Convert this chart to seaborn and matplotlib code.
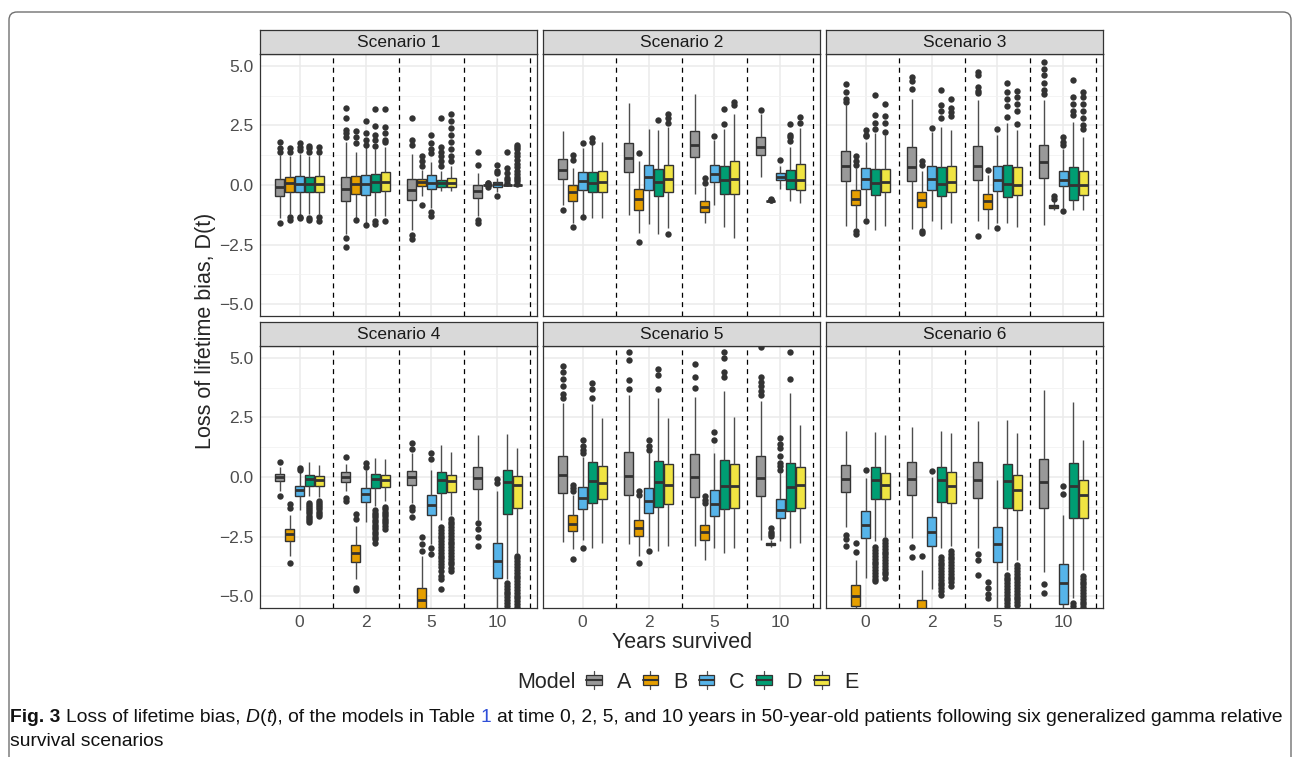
import matplotlib
matplotlib.use("Agg")
import matplotlib.pyplot as plt
import numpy as np
import pandas as pd
import seaborn as sns
from matplotlib.legend_handler import HandlerBase
from matplotlib.lines import Line2D
from matplotlib.patches import Patch, Rectangle, FancyBboxPatch

# 模型、时间点与配色
models = ["A", "B", "C", "D", "E"]
years = ["0", "2", "5", "10"]
palette = {"A": "#999999", "B": "#E69F00", "C": "#56B4E9", "D": "#009E73", "E": "#F0E442"}
scenarios = ["Scenario 1", "Scenario 2", "Scenario 3", "Scenario 4", "Scenario 5", "Scenario 6"]

# 每个箱体: (下须, Q1, 中位数, Q3, 上须), 依次为 0, 2, 5, 10 年
s1_box = {
    "A": [(-1.40, -0.47, -0.10, 0.26, 1.26), (-2.07, -0.68, -0.15, 0.32, 1.80), (-1.90, -0.64, -0.21, 0.26, 1.30), (-1.30, -0.54, -0.26, -0.01, 0.50)],
    "B": [(-1.20, -0.29, 0.08, 0.33, 1.20), (-1.37, -0.36, 0.04, 0.36, 1.40), (-0.45, -0.04, 0.12, 0.26, 0.64), (-0.01, -0.01, 0.00, 0.01, 0.01)],
    "C": [(-1.25, -0.29, 0.04, 0.36, 1.30), (-1.58, -0.40, 0.04, 0.43, 1.60), (-0.95, -0.15, 0.07, 0.43, 0.95), (-0.30, -0.10, 0.03, 0.12, 0.30)],
    "D": [(-1.20, -0.29, 0.05, 0.33, 1.20), (-1.30, -0.31, 0.12, 0.46, 1.50), (-0.26, -0.08, 0.10, 0.22, 0.60), (0.00, 0.00, 0.00, 0.00, 0.00)],
    "E": [(-1.20, -0.29, 0.06, 0.36, 1.25), (-1.30, -0.26, 0.12, 0.53, 1.60), (-0.26, -0.10, 0.08, 0.28, 0.80), (0.00, 0.00, 0.00, 0.00, 0.00)],
}
s1_out = {
    "A": [[1.38, 1.57, 1.80, -1.60], [2.0, 2.2, 2.33, 2.82, 3.25, -2.24, -2.6], [1.7, 1.9, 2.8, -2.1, -2.25], [0.85, 1.37, -1.45, -1.58]],
    "B": [[1.4, 1.57, -1.35, -1.45], [1.75, 2.0, 2.26, -1.49], [0.78, 1.0, 1.2, -0.85], [0.08, 0.1, -0.08]],
    "C": [[1.45, 1.6, 1.78, -1.35, -1.4], [1.7, 1.9, 2.17, 2.68, -1.7], [1.35, 1.5, 1.75, 2.1, -1.15, -1.3], [0.5, 0.6, 0.85, -0.47]],
    "D": [[1.4, 1.55, 1.65, -1.4, -1.48], [1.65, 1.9, 2.12, 2.47, 3.2, -1.5, -1.65], [0.8, 1.0, 1.2, 1.4, 1.6, 2.82], [0.1, 0.2, 0.3, 0.5, 0.7, 1.4]],
    "E": [[1.4, 1.6, -1.35, -1.5], [1.8, 1.9, 2.2, 2.44, 3.17, -1.5], [1.0, 1.2, 1.5, 1.8, 2.1, 2.4, 2.7, 3.0],
          [0.05, 0.15, 0.25, 0.35, 0.45, 0.6, 0.75, 0.9, 1.05, 1.2, 1.35, 1.5, 1.6, 1.7]],
}

s2_box = {
    "A": [(-0.82, 0.26, 0.64, 1.10, 2.26), (-1.28, 0.53, 1.12, 1.75, 3.46), (-0.37, 1.17, 1.68, 2.26, 3.83), (0.33, 1.26, 1.61, 2.00, 2.96)],
    "B": [(-1.58, -0.68, -0.31, -0.01, 0.70), (-2.00, -1.03, -0.58, -0.15, 1.00), (-1.58, -1.12, -0.92, -0.68, -0.10), (-0.68, -0.68, -0.68, -0.68, -0.68)],
    "C": [(-1.24, -0.19, 0.18, 0.53, 1.54), (-1.65, -0.22, 0.33, 0.85, 2.37), (-0.82, 0.11, 0.47, 0.85, 1.89), (-0.17, 0.19, 0.35, 0.50, 0.80)],
    "D": [(-1.37, -0.29, 0.10, 0.53, 1.75), (-2.07, -0.47, 0.12, 0.68, 2.30), (-1.75, -0.36, 0.19, 0.81, 2.37), (-0.68, -0.15, 0.19, 0.64, 1.60)],
    "E": [(-1.40, -0.29, 0.12, 0.57, 1.79), (-1.80, -0.29, 0.26, 0.85, 2.44), (-2.21, -0.37, 0.26, 1.01, 3.00), (-0.75, -0.22, 0.22, 0.89, 2.40)],
}
s2_out = {
    "A": [[-1.05], [], [], [3.15]],
    "B": [[1.05, 1.26, -1.76], [1.33, -2.4], [0.1, 0.29], [-0.58, -0.62, -0.65]],
    "C": [[1.75, -1.33], [], [2.07], [1.06]],
    "D": [[1.82, 1.98], [2.72], [2.58, 3.18], [1.85, 2.0, 2.1, 2.58]],
    "E": [[], [2.6, 2.8, 3.0, -2.05], [3.35, 3.49], [2.6, 2.86]],
}

s3_box = {
    "A": [(-1.72, 0.15, 0.78, 1.44, 3.35), (-1.86, 0.15, 0.74, 1.58, 3.60), (-1.51, 0.22, 0.81, 1.65, 3.56), (-1.69, 0.29, 0.96, 1.69, 3.56)],
    "B": [(-1.79, -0.86, -0.58, -0.22, 0.70), (-1.80, -0.93, -0.61, -0.29, 0.60), (-1.83, -0.99, -0.68, -0.36, 0.43), (-1.07, -0.96, -0.89, -0.82, -0.65)],
    "C": [(-1.40, -0.15, 0.26, 0.71, 1.82), (-1.51, -0.22, 0.26, 0.78, 2.24), (-1.60, -0.24, 0.22, 0.78, 2.12), (-0.95, -0.06, 0.22, 0.60, 1.50)],
    "D": [(-1.90, -0.40, 0.10, 0.68, 2.20), (-1.83, -0.47, 0.06, 0.74, 2.44), (-1.58, -0.51, 0.04, 0.82, 2.62), (-1.07, -0.65, -0.01, 0.74, 2.65)],
    "E": [(-1.72, -0.31, 0.12, 0.68, 2.10), (-1.58, -0.31, 0.12, 0.78, 2.30), (-1.75, -0.43, 0.01, 0.74, 2.30), (-1.03, -0.43, -0.01, 0.57, 2.00)],
}
s3_out = {
    "A": [[3.5, 3.6, 3.9, 4.25], [4.04, 4.35, 4.55], [3.85, 3.95, 4.1, 4.6, 4.76, -2.14], [3.83, 4.0, 4.3, 4.6, 4.87, 5.15]],
    "B": [[0.85, 1.0, 1.2, -1.93, -2.04], [0.85, 1.01, -1.92, -2.0], [0.64], [-0.47, -0.57]],
    "C": [[2.05, 2.1, 2.3, -1.51], [2.4], [2.37, -1.8], [1.68, 1.8, 2.03, -1.1]],
    "D": [[2.37, 2.6, 2.93, 3.76], [2.8, 3.1, 3.35, 3.97], [2.86, 3.3, 3.6, 3.9, 4.28], [2.93, 3.1, 3.4, 3.7, 4.39]],
    "E": [[2.24, 2.6, 2.9, 3.42], [2.9, 3.05, 3.25, 3.6], [2.55, 3.1, 3.4, 3.7, 3.93], [2.37, 2.5, 2.8, 3.1, 3.4, 3.7, 3.9]],
}

s4_box = {
    "A": [(-0.60, -0.18, -0.01, 0.14, 0.40), (-0.60, -0.22, 0.00, 0.19, 0.55), (-1.10, -0.32, 0.00, 0.26, 1.00), (-1.80, -0.50, -0.04, 0.42, 1.78)],
    "B": [(-3.30, -2.68, -2.40, -2.17, -1.60), (-4.28, -3.56, -3.17, -2.86, -2.06), (-7.00, -5.70, -5.18, -4.67, -3.30), (-9.50, -8.50, -8.00, -7.50, -6.60)],
    "C": [(-1.40, -0.78, -0.54, -0.36, 0.20), (-1.90, -1.04, -0.71, -0.46, 0.30), (-2.80, -1.61, -1.18, -0.74, 0.30), (-6.40, -4.25, -3.51, -2.75, -0.60)],
    "D": [(-0.80, -0.36, -0.08, 0.10, 0.61), (-1.20, -0.46, -0.08, 0.14, 0.79), (-1.80, -0.69, -0.11, 0.21, 1.35), (-4.30, -1.57, -0.22, 0.31, 1.80)],
    "E": [(-0.85, -0.36, -0.14, 0.06, 0.51), (-1.00, -0.42, -0.11, 0.10, 0.75), (-1.60, -0.64, -0.15, 0.07, 1.07), (-3.20, -1.29, -0.32, 0.03, 1.21)],
}
s4_out = {
    "A": [[0.65, -0.81], [0.85, -0.9, -1.0], [1.18, 1.42, -1.25, -1.4, -1.7], [-1.92, -2.2, -2.5, -2.9]],
    "B": [[-1.3, -1.15, -3.61], [-1.57, -1.78, -4.65, -4.76], [-2.54, -2.82, -3.1], []],
    "C": [[0.3, 0.37], [0.44, 0.58], [0.75, 1.0, -2.96, -3.24], [-0.07, -0.25]],
    "D": [[-1.08, -1.17, -1.26, -1.35, -1.44, -1.53, -1.62, -1.71, -1.8, -1.9],
          [-1.4, -1.5, -1.6, -1.7, -1.8, -1.9, -2.0, -2.1, -2.2, -2.3, -2.4, -2.5, -2.6, -2.75],
          [-2.1, -2.22, -2.34, -2.46, -2.58, -2.7, -2.82, -2.94, -3.06, -3.18, -3.3, -3.42, -3.54, -3.66, -3.78, -3.95, -4.15, -4.3, -4.7],
          [-4.45, -4.57, -4.69, -4.81, -4.93, -5.05, -5.17, -5.29, -5.41]],
    "E": [[-1.0, -1.09, -1.18, -1.27, -1.36, -1.45, -1.55, -1.64],
          [-1.25, -1.35, -1.45, -1.55, -1.65, -1.75, -1.85, -1.95, -2.05, -2.2],
          [-1.75, -1.87, -1.99, -2.11, -2.23, -2.35, -2.47, -2.59, -2.71, -2.83, -2.95, -3.07, -3.19, -3.31, -3.43, -3.55, -3.67, -3.8, -3.93],
          [-3.3, -3.42, -3.54, -3.66, -3.78, -3.9, -4.02, -4.14, -4.26, -4.38, -4.5, -4.62, -4.74, -4.86, -4.98, -5.1, -5.22, -5.34, -5.46]],
}

s5_box = {
    "A": [(-2.71, -0.67, 0.10, 0.89, 3.11), (-2.82, -0.74, 0.06, 1.03, 3.43), (-2.89, -0.83, 0.01, 0.97, 3.36), (-2.64, -0.78, -0.06, 0.89, 3.20)],
    "B": [(-3.03, -2.26, -1.99, -1.61, -0.75), (-3.31, -2.47, -2.15, -1.81, -0.90), (-3.47, -2.65, -2.31, -2.03, -1.20), (-2.93, -2.86, -2.80, -2.75, -2.65)],
    "C": [(-2.65, -1.33, -0.90, -0.42, 0.86), (-2.90, -1.50, -0.99, -0.46, 1.00), (-3.00, -1.64, -1.15, -0.53, 1.00), (-2.68, -1.71, -1.39, -0.94, 0.15)],
    "D": [(-2.99, -1.11, -0.15, 0.61, 3.05), (-3.10, -1.25, -0.21, 0.68, 3.33), (-3.17, -1.36, -0.36, 0.72, 3.60), (-2.96, -1.43, -0.42, 0.58, 3.53)],
    "E": [(-2.75, -0.94, -0.25, 0.47, 2.46), (-2.89, -1.15, -0.32, 0.54, 2.46), (-3.00, -1.29, -0.39, 0.54, 2.50), (-2.75, -1.29, -0.35, 0.40, 2.18)],
}
s5_out = {
    "A": [[3.3, 3.5, 3.83, 4.1, 4.4, 4.64], [3.7, 4.06, 4.9, 5.24], [3.72, 4.19, 4.75], [3.45, 3.6, 3.8, 4.0, 4.19, 5.45]],
    "B": [[-0.32, -0.45, -0.6, -3.44], [-0.6, -0.75, -3.61], [-0.81, -0.95, -1.08], [-2.15, -2.3, -2.4, -2.47]],
    "C": [[1.0, 1.15, 1.3, 1.56, -2.99], [1.15, 1.3, 1.56, -3.1], [1.56, 1.9], [0.3, 0.45, 0.6, 0.9, 1.2, 1.4, 1.62]],
    "D": [[3.3, 3.7, 3.94], [3.7, 4.3, 4.54], [4.2, 4.4, 5.0, 5.24], [4.12, 5.24]],
    "E": [[], [], [], []],
}

s6_box = {
    "A": [(-2.12, -0.64, -0.07, 0.51, 1.94), (-2.58, -0.76, -0.07, 0.61, 2.11), (-3.00, -0.88, -0.11, 0.65, 2.36), (-4.00, -1.32, -0.21, 0.76, 3.67)],
    "B": [(-6.70, -5.42, -5.01, -4.53, -3.49), (-7.50, -6.30, -5.70, -5.18, -3.90), (-8.50, -7.60, -7.20, -6.80, -5.65), (-10.0, -9.00, -8.50, -8.00, -7.00)],
    "C": [(-4.25, -2.57, -2.03, -1.43, -0.05), (-4.70, -2.89, -2.29, -1.67, 0.00), (-5.70, -3.58, -2.82, -2.08, -0.14), (-7.50, -5.32, -4.46, -3.65, -1.61)],
    "D": [(-2.70, -0.92, -0.14, 0.40, 1.90), (-3.00, -1.06, -0.11, 0.44, 1.93), (-3.90, -1.29, -0.18, 0.54, 2.39), (-5.10, -1.74, -0.39, 0.58, 3.15)],
    "E": [(-2.50, -0.94, -0.35, 0.17, 1.76), (-2.90, -1.11, -0.39, 0.19, 1.83), (-3.50, -1.40, -0.53, 0.10, 1.83), (-3.90, -1.71, -0.74, -0.11, 1.56)],
}
s6_out = {
    "A": [[-2.43, -2.6, -2.9], [-2.93, -3.37], [-3.24, -3.5, -4.1], [-4.5, -4.86]],
    "B": [[-2.79, -3.15], [-3.3], [-4.4, -4.65, -4.9, -5.1], []],
    "C": [[0.3], [0.24], [], [-0.36, -0.7]],
    "D": [[-2.95, -3.07, -3.19, -3.31, -3.43, -3.55, -3.67, -3.79, -3.91, -4.03, -4.15, -4.27, -4.38],
          [-3.35, -3.47, -3.59, -3.71, -3.83, -3.95, -4.07, -4.19, -4.31, -4.43, -4.55, -4.67, -4.79, -4.97],
          [-4.1, -4.22, -4.34, -4.46, -4.58, -4.7, -4.82, -4.94, -5.06, -5.18, -5.3, -5.42],
          [-5.3, -5.4]],
    "E": [[-2.65, -2.77, -2.89, -3.01, -3.13, -3.25, -3.37, -3.49, -3.61, -3.73, -3.85, -3.97, -4.09, -4.25],
          [-3.1, -3.22, -3.34, -3.46, -3.58, -3.7, -3.82, -3.94, -4.06, -4.18, -4.3, -4.42, -4.56],
          [-3.7, -3.82, -3.94, -4.06, -4.18, -4.3, -4.42, -4.54, -4.66, -4.78, -4.9, -5.02, -5.14, -5.26, -5.38],
          [-4.15, -4.27, -4.39, -4.51, -4.63, -4.75, -4.87, -4.99, -5.11, -5.23, -5.35, -5.47]],
}

all_boxes = [s1_box, s2_box, s3_box, s4_box, s5_box, s6_box]
all_outliers = [s1_out, s2_out, s3_out, s4_out, s5_out, s6_out]

# 把五数概括还原成长表: 五个值各重复 100 次, 使分位数正好落在读数上, 再加上离群点
rows = []
for sc, boxes, outs in zip(scenarios, all_boxes, all_outliers):
    for m in models:
        for j, yr in enumerate(years):
            vals = [v for v in boxes[m][j] for _ in range(100)] + outs[m][j]
            rows += [(sc, yr, m, v) for v in vals]
df = pd.DataFrame(rows, columns=["scenario", "years", "model", "bias"])

# 画布与版式 (像素)
W, H = 1293, 757
col_left = [260, 543, 826]
row_top = [54, 346]
panel_w, panel_h, strip_h = 277, 262, 24


def px_rect(left, top, width, height):
    return [left / W, 1 - (top + height) / H, width / W, height / H]


sns.set_style("white")
plt.rcParams["font.family"] = ["Liberation Sans", "DejaVu Sans"]
plt.rcParams["axes.unicode_minus"] = True

fig = plt.figure(figsize=(W / 100, H / 100), dpi=100)

for i, sc in enumerate(scenarios):
    r, c = divmod(i, 3)
    ax = fig.add_axes(px_rect(col_left[c], row_top[r], panel_w, panel_h))
    sns.boxplot(data=df[df["scenario"] == sc], x="years", y="bias", hue="model",
                order=years, hue_order=models, palette=palette, saturation=1,
                width=0.75, gap=0.08, linewidth=1.0, linecolor="#333333",
                showcaps=False, medianprops=dict(linewidth=2.0, color="#333333"),
                whiskerprops=dict(color="#4D4D4D"),
                flierprops=dict(marker="o", markersize=4.6, markerfacecolor="#333333",
                                markeredgecolor="#333333", markeredgewidth=0),
                legend=False, ax=ax)
    for k in range(len(years)):
        ax.axvline(k + 0.5, color="black", lw=0.9, ls=(0, (4, 3.5)), zorder=0.9)
    ax.set_xlim(-0.6, len(years) - 0.4)
    ax.set_ylim(-5.5, 5.5)
    ax.set_yticks([-5, -2.5, 0, 2.5, 5])
    ax.set_yticks([-3.75, -1.25, 1.25, 3.75], minor=True)
    ax.set_xticks(range(len(years)))
    ax.set_xlabel("")
    ax.set_ylabel("")
    ax.grid(True, which="major", color="#EBEBEB", lw=1.1)
    ax.grid(True, which="minor", axis="y", color="#F2F2F2", lw=0.6)
    ax.set_axisbelow(True)
    ax.tick_params(which="minor", length=0)
    ax.tick_params(which="major", length=3, width=0.8, color="#333333", pad=2,
                   labelsize=12.5, labelcolor="#4D4D4D")
    if c == 0:
        ax.set_yticklabels(["\u22125.0", "\u22122.5", "0.0", "2.5", "5.0"])
    else:
        ax.tick_params(left=False, labelleft=False)
    if r == 1:
        ax.set_xticklabels(years)
    else:
        ax.tick_params(bottom=False, labelbottom=False)
    for sp in ax.spines.values():
        sp.set_color("#333333")
        sp.set_linewidth(0.9)

    # 分面标题条
    sax = fig.add_axes(px_rect(col_left[c], row_top[r] - strip_h, panel_w, strip_h))
    sax.set_facecolor("#D9D9D9")
    sax.set_xticks([])
    sax.set_yticks([])
    for sp in sax.spines.values():
        sp.set_color("#333333")
        sp.set_linewidth(0.9)
    sax.text(0.5, 0.48, sc, ha="center", va="center", fontsize=12.5, color="#1A1A1A",
             transform=sax.transAxes)

# 轴标题
fig.text(205 / W, 1 - 331 / H, "Loss of lifetime bias, D(t)", rotation=90,
         ha="center", va="center", fontsize=15.5)
fig.text(682 / W, 1 - 642 / H, "Years survived", ha="center", va="center", fontsize=15.5)


# 图例: 箱线图样式的图例键
class BoxKey(HandlerBase):
    def create_artists(self, legend, orig_handle, xdescent, ydescent, width, height, fontsize, trans):
        x0, y0 = -xdescent, -ydescent
        bw, bh = width * 0.8, height * 0.55
        bx, by = x0 + (width - bw) / 2, y0 + (height - bh) / 2
        cx = x0 + width / 2
        lo = Line2D([cx, cx], [y0, by], color="#4D4D4D", lw=0.9, transform=trans)
        hi = Line2D([cx, cx], [by + bh, y0 + height], color="#4D4D4D", lw=0.9, transform=trans)
        box = Rectangle((bx, by), bw, bh, facecolor=orig_handle.get_facecolor(),
                        edgecolor="#333333", lw=0.9, transform=trans)
        med = Line2D([bx, bx + bw], [by + bh / 2] * 2, color="#333333", lw=1.5, transform=trans)
        return [lo, hi, box, med]


handles = [Patch(facecolor=palette[m], edgecolor="#333333") for m in models]
fig.text(517 / W, 1 - 682 / H, "Model", ha="left", va="center", fontsize=15.5)
fig.legend(handles, models, loc="center left", bbox_to_anchor=(565 / W, 1 - 682 / H),
           ncol=5, frameon=False, fontsize=15.5, handler_map={Patch: BoxKey()},
           handlelength=0.9, handleheight=0.85, handletextpad=0.6, columnspacing=0.45,
           borderpad=0.4)

# 外框
ov = fig.add_axes([0, 0, 1, 1])
ov.set_xlim(0, W)
ov.set_ylim(H, 0)
ov.axis("off")
ov.patch.set_alpha(0)
ov.add_patch(FancyBboxPatch((9, 12), 1282, 900, boxstyle="round,pad=0,rounding_size=8",
                            fill=False, ec="#707070", lw=1.0))

# 图注: 分段排版 (粗体 / 斜体 / 蓝色)
renderer = fig.canvas.get_renderer()


def text_width(s, size, **kw):
    t = fig.text(0, 0, s, fontsize=size, **kw)
    w = t.get_window_extent(renderer=renderer).width
    t.remove()
    return w


cap_font = ["Liberation Sans", "DejaVu Sans"]
line1 = [("Fig. 3", dict(weight="bold"), True), ("Loss of lifetime bias,", {}, True),
         ("D", dict(style="italic"), False), ("(", {}, False), ("t", dict(style="italic"), False),
         ("), of the models in Table", {}, True), ("1", dict(color="#2F4FD8"), True),
         ("at time 0, 2, 5, and 10 years in 50-year-old patients following six generalized gamma relative", {}, False)]
line2 = [("survival scenarios", {}, False)]


def line_width(pieces, size):
    sp = text_width("a a", size, family=cap_font) - text_width("aa", size, family=cap_font)
    total = 0
    for s, kw, space in pieces:
        total += text_width(s, size, family=cap_font, **kw) + (sp if space else 0)
    return total


base = 12.0
cap_size = base * (1283 - 10) / line_width(line1, base)


def put_line(pieces, x, y, size):
    sp = text_width("a a", size, family=cap_font) - text_width("aa", size, family=cap_font)
    for s, kw, space in pieces:
        style = {"color": "#111111", **kw}
        fig.text(x / W, 1 - y / H, s, fontsize=size, family=cap_font, va="baseline", ha="left",
                 **style)
        x += text_width(s, size, family=cap_font, **kw) + (sp if space else 0)


put_line(line1, 10, 722, cap_size)
put_line(line2, 10, 746, cap_size)

fig.savefig("out.png", dpi=100)
